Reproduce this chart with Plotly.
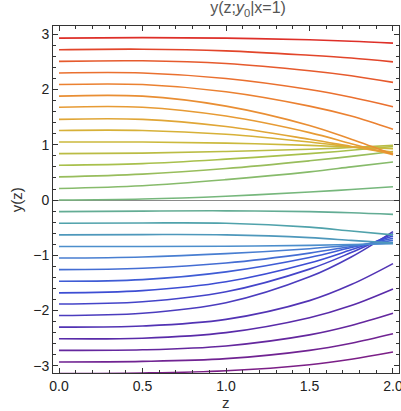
import plotly.graph_objects as go
from plotly.colors import sample_colorscale

z_grid = [0.0, 0.5, 1.0, 1.5, 1.75, 2.0]

# y0 values (k*pi/15, k=-15..14) and curves
curves = [
    [-3.14, -3.13, -3.09, -2.98, -2.88, -2.75],
    [-2.93, -2.92, -2.87, -2.72, -2.59, -2.42],
    [-2.72, -2.71, -2.64, -2.44, -2.27, -2.05],
    [-2.51, -2.50, -2.40, -2.13, -1.91, -1.61],
    [-2.30, -2.28, -2.16, -1.82, -1.53, -1.15],
    [-2.09, -2.05, -1.86, -1.39, -1.03, -0.57],
    [-1.88, -1.84, -1.66, -1.25, -0.95, -0.61],
    [-1.68, -1.64, -1.48, -1.14, -0.90, -0.65],
    [-1.47, -1.44, -1.30, -1.04, -0.86, -0.69],
    [-1.26, -1.235, -1.14, -0.96, -0.84, -0.73],
    [-1.05, -1.03, -0.97, -0.88, -0.82, -0.77],
    [-0.84, -0.84, -0.835, -0.82, -0.805, -0.79],
    [-0.63, -0.625, -0.63, -0.68, -0.73, -0.78],
    [-0.42, -0.415, -0.42, -0.49, -0.56, -0.63],
    [-0.21, -0.20, -0.195, -0.21, -0.23, -0.26],
    [0.0, 0.02, 0.07, 0.145, 0.19, 0.24],
    [0.21, 0.26, 0.37, 0.51, 0.60, 0.69],
    [0.42, 0.47, 0.57, 0.71, 0.79, 0.88],
    [0.63, 0.66, 0.74, 0.84, 0.90, 0.97],
    [0.84, 0.85, 0.88, 0.92, 0.95, 0.99],
    [1.05, 1.05, 1.03, 0.99, 0.96, 0.93],
    [1.26, 1.26, 1.19, 1.05, 0.96, 0.87],
    [1.46, 1.46, 1.33, 1.10, 0.97, 0.84],
    [1.68, 1.68, 1.52, 1.22, 1.02, 0.82],
    [1.88, 1.88, 1.70, 1.35, 1.10, 0.83],
    [2.09, 2.09, 1.96, 1.70, 1.52, 1.28],
    [2.30, 2.30, 2.20, 2.00, 1.86, 1.69],
    [2.51, 2.52, 2.47, 2.34, 2.25, 2.13],
    [2.72, 2.73, 2.70, 2.62, 2.57, 2.50],
    [2.93, 2.94, 2.93, 2.90, 2.875, 2.84],
]

x_ticks = [0.0, 0.5, 1.0, 1.5, 2.0]
y_ticks = [-3, -2, -1, 0, 1, 2, 3]

cscale = [
    [0.0, "#7b1f87"], [0.1, "#5a2aa8"], [0.25, "#3b4fd6"], [0.37, "#4c8bd0"],
    [0.45, "#50a2aa"], [0.52, "#78b87a"], [0.62, "#a8c04c"], [0.7, "#d0b83a"],
    [0.78, "#e6a035"], [0.88, "#ec7a30"], [1.0, "#de2f28"],
]
n = len(curves)
colors = sample_colorscale(cscale, [i / (n - 1) for i in range(n)])

fig = go.Figure()
for ys, c in zip(curves, colors):
    fig.add_trace(go.Scatter(x=z_grid, y=ys, mode="lines",
                             line=dict(color=c, width=1.6, shape="spline", smoothing=1.0),
                             showlegend=False, hoverinfo="skip", cliponaxis=True))

axis_common = dict(
    showgrid=False, ticks="inside", ticklen=5, tickwidth=1, tickcolor="#333",
    mirror="allticks", showline=True, linecolor="#333", linewidth=1,
    tickfont=dict(size=14, color="#222"), automargin=False,
    ticklabeloverflow="allow",
)
fig.update_xaxes(range=[-0.036, 2.036], tickvals=x_ticks, tickformat=".1f",
                 zeroline=False,
                 minor=dict(dtick=0.1, ticks="inside", ticklen=3, tickcolor="#333"),
                 **axis_common)
fig.update_yaxes(range=[-3.13, 3.15], tickvals=y_ticks,
                 zeroline=True, zerolinecolor="#8a8a8a", zerolinewidth=1.2,
                 minor=dict(dtick=0.2, ticks="inside", ticklen=3, tickcolor="#333"),
                 **axis_common)

fig.update_layout(
    width=401, height=411,
    margin=dict(l=53, r=2, t=26, b=38, autoexpand=False),
    paper_bgcolor="white", plot_bgcolor="white",
    font=dict(family="Liberation Sans, Arial, sans-serif"),
    title=dict(text="y(z;<i>y</i><sub>0</sub>|x=1)", x=226 / 401, xanchor="center",
               xref="paper", y=0.995, yanchor="top", font=dict(size=16, color="#555")),
    annotations=[
        dict(text="z", xref="paper", yref="paper", x=0.5, y=-0.085,
             xanchor="center", yanchor="middle", showarrow=False,
             font=dict(size=15, color="#333")),
        dict(text="y(z)", xref="paper", yref="paper", x=-0.105, y=0.5,
             xanchor="center", yanchor="middle", showarrow=False, textangle=-90,
             font=dict(size=15, color="#333")),
    ],
)

fig.write_html("out.html", config={"displayModeBar": False},
               post_script="document.body.style.margin='0';document.body.style.padding='0';")
